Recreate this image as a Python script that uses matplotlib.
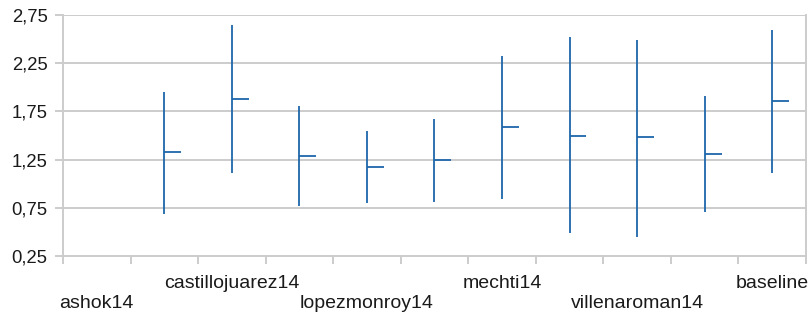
import numpy as np
import matplotlib
matplotlib.use("Agg")
import matplotlib.pyplot as plt

# systems (only every other label is visible in the original)
categories = ["ashok14", "", "castillojuarez14", "", "lopezmonroy14", "",
              "mechti14", "", "villenaroman14", "", "baseline"]
# high / low / close per system (ashok14 has no bar)
high = [np.nan, 1.95, 2.65, 1.81, 1.55, 1.67, 2.32, 2.52, 2.49, 1.91, 2.59]
low = [np.nan, 0.69, 1.11, 0.77, 0.80, 0.81, 0.84, 0.49, 0.45, 0.71, 1.11]
close = [np.nan, 1.33, 1.88, 1.29, 1.17, 1.25, 1.59, 1.50, 1.48, 1.31, 1.86]

yticks = [0.25, 0.75, 1.25, 1.75, 2.25, 2.75]
ytick_labels = ["0,25", "0,75", "1,25", "1,75", "2,25", "2,75"]

plt.rcParams['font.family'] = ['Liberation Sans', 'DejaVu Sans']

fig = plt.figure(figsize=(8.12, 3.18), dpi=100)
ax = fig.add_axes([63/812, 1-256/318, (806-63)/812, (256-15)/318])

blue = '#1e66aa'
x = np.arange(len(categories)) + 0.5
ax.vlines(x, low, high, color=blue, lw=1.3, zorder=3)
ax.hlines(close, x, x + 0.25, color=blue, lw=1.3, zorder=3)

ax.set_xlim(0, len(categories))
ax.set_ylim(0.25, 2.75)
ax.set_yticks(yticks)
ax.set_yticklabels(ytick_labels, fontsize=13.3, color='#1a1a1a')
ax.yaxis.grid(True, color='#cccccc', lw=1.4)
ax.set_axisbelow(True)

# boundary ticks (major) + labels at centers (minor), staggered in two rows
ax.set_xticks(np.arange(len(categories) + 1))
ax.set_xticklabels([])
ax.set_xticks(x, minor=True)
labs = []
k = 0
for c in categories:
    if c == "":
        labs.append("")
        continue
    labs.append(c if k % 2 == 1 else "\n" + c)
    k += 1
ax.set_xticklabels(labs, minor=True, fontsize=14, color='#1a1a1a')
ax.tick_params(axis='x', which='major', length=6, color='#cccccc', width=1.4)
ax.tick_params(axis='x', which='minor', length=0, pad=14)
ax.tick_params(axis='y', length=6, color='#cccccc', width=1.4, pad=5)

for s in ['left', 'right', 'bottom', 'top']:
    ax.spines[s].set_color('#cccccc')
    ax.spines[s].set_linewidth(1.4)
ax.spines['top'].set_visible(False)

fig.savefig('out.png', dpi=100)
